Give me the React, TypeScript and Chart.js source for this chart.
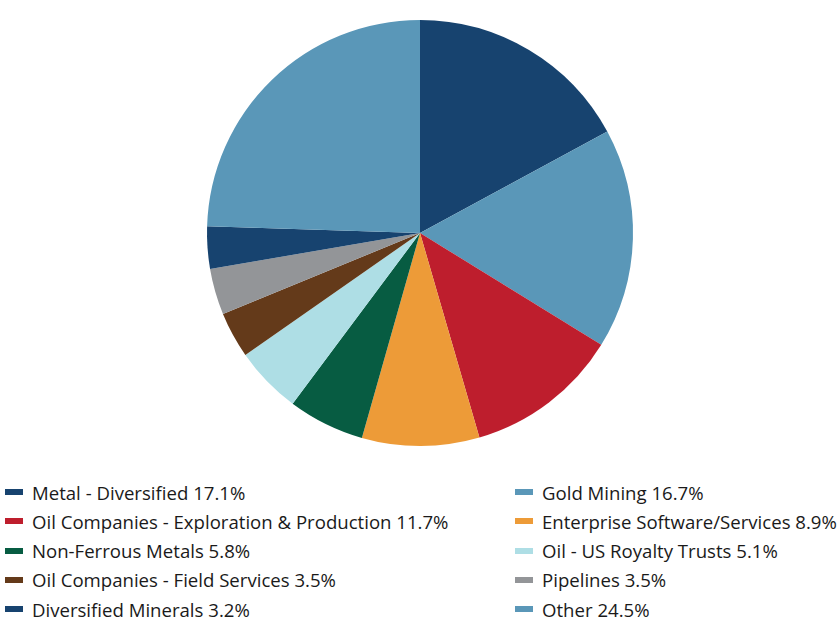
import React, { useEffect, useRef } from "react";
import { Chart, registerables } from "chart.js";

Chart.register(...registerables);

const labels = [
  "Metal - Diversified",
  "Gold Mining",
  "Oil Companies - Exploration & Production",
  "Enterprise Software/Services",
  "Non-Ferrous Metals",
  "Oil - US Royalty Trusts",
  "Oil Companies - Field Services",
  "Pipelines",
  "Diversified Minerals",
  "Other",
];
const values = [17.1, 16.7, 11.7, 8.9, 5.8, 5.1, 3.5, 3.5, 3.2, 24.5];
const colors = [
  "#17436F",
  "#5A97B8",
  "#BE1E2D",
  "#ED9B38",
  "#075C42",
  "#AEDEE5",
  "#643A1A",
  "#939598",
  "#17436F",
  "#5A97B8",
];

export default function App() {
  const ref = useRef<HTMLCanvasElement>(null);
  useEffect(() => {
    if (!ref.current) return;
    const chart = new Chart(ref.current, {
      type: "pie",
      data: {
        labels,
        datasets: [
          {
            data: values,
            backgroundColor: colors,
            borderWidth: 0,
          },
        ],
      },
      options: {
        animation: false,
        responsive: false,
        layout: { padding: 20 },
        plugins: { legend: { display: false }, tooltip: { enabled: false } },
      },
    });
    return () => chart.destroy();
  }, []);

  return (
    <div
      style={{
        position: "fixed",
        left: 0,
        top: 0,
        width: 840,
        height: 636,
        background: "#fff",
        fontFamily: "'Open Sans', sans-serif",
      }}
    >
      <canvas ref={ref} width={840} height={466} style={{ display: "block" }} />
      {labels.map((l, i) => {
        const col = i % 2;
        const row = Math.floor(i / 2);
        const top = 492 + row * 29.3;
        const left = col === 0 ? 5 : 515;
        return (
          <div
            key={l}
            style={{
              position: "absolute",
              left,
              top: top - 12,
              height: 24,
              display: "flex",
              alignItems: "center",
              whiteSpace: "nowrap",
              fontSize: 18.6,
              color: "#1a1a1a",
            }}
          >
            <span
              style={{
                display: "inline-block",
                width: 18,
                height: 6,
                background: colors[i],
                marginRight: 9,
              }}
            />
            <span>
              {l} {values[i].toFixed(1)}%
            </span>
          </div>
        );
      })}
    </div>
  );
}
